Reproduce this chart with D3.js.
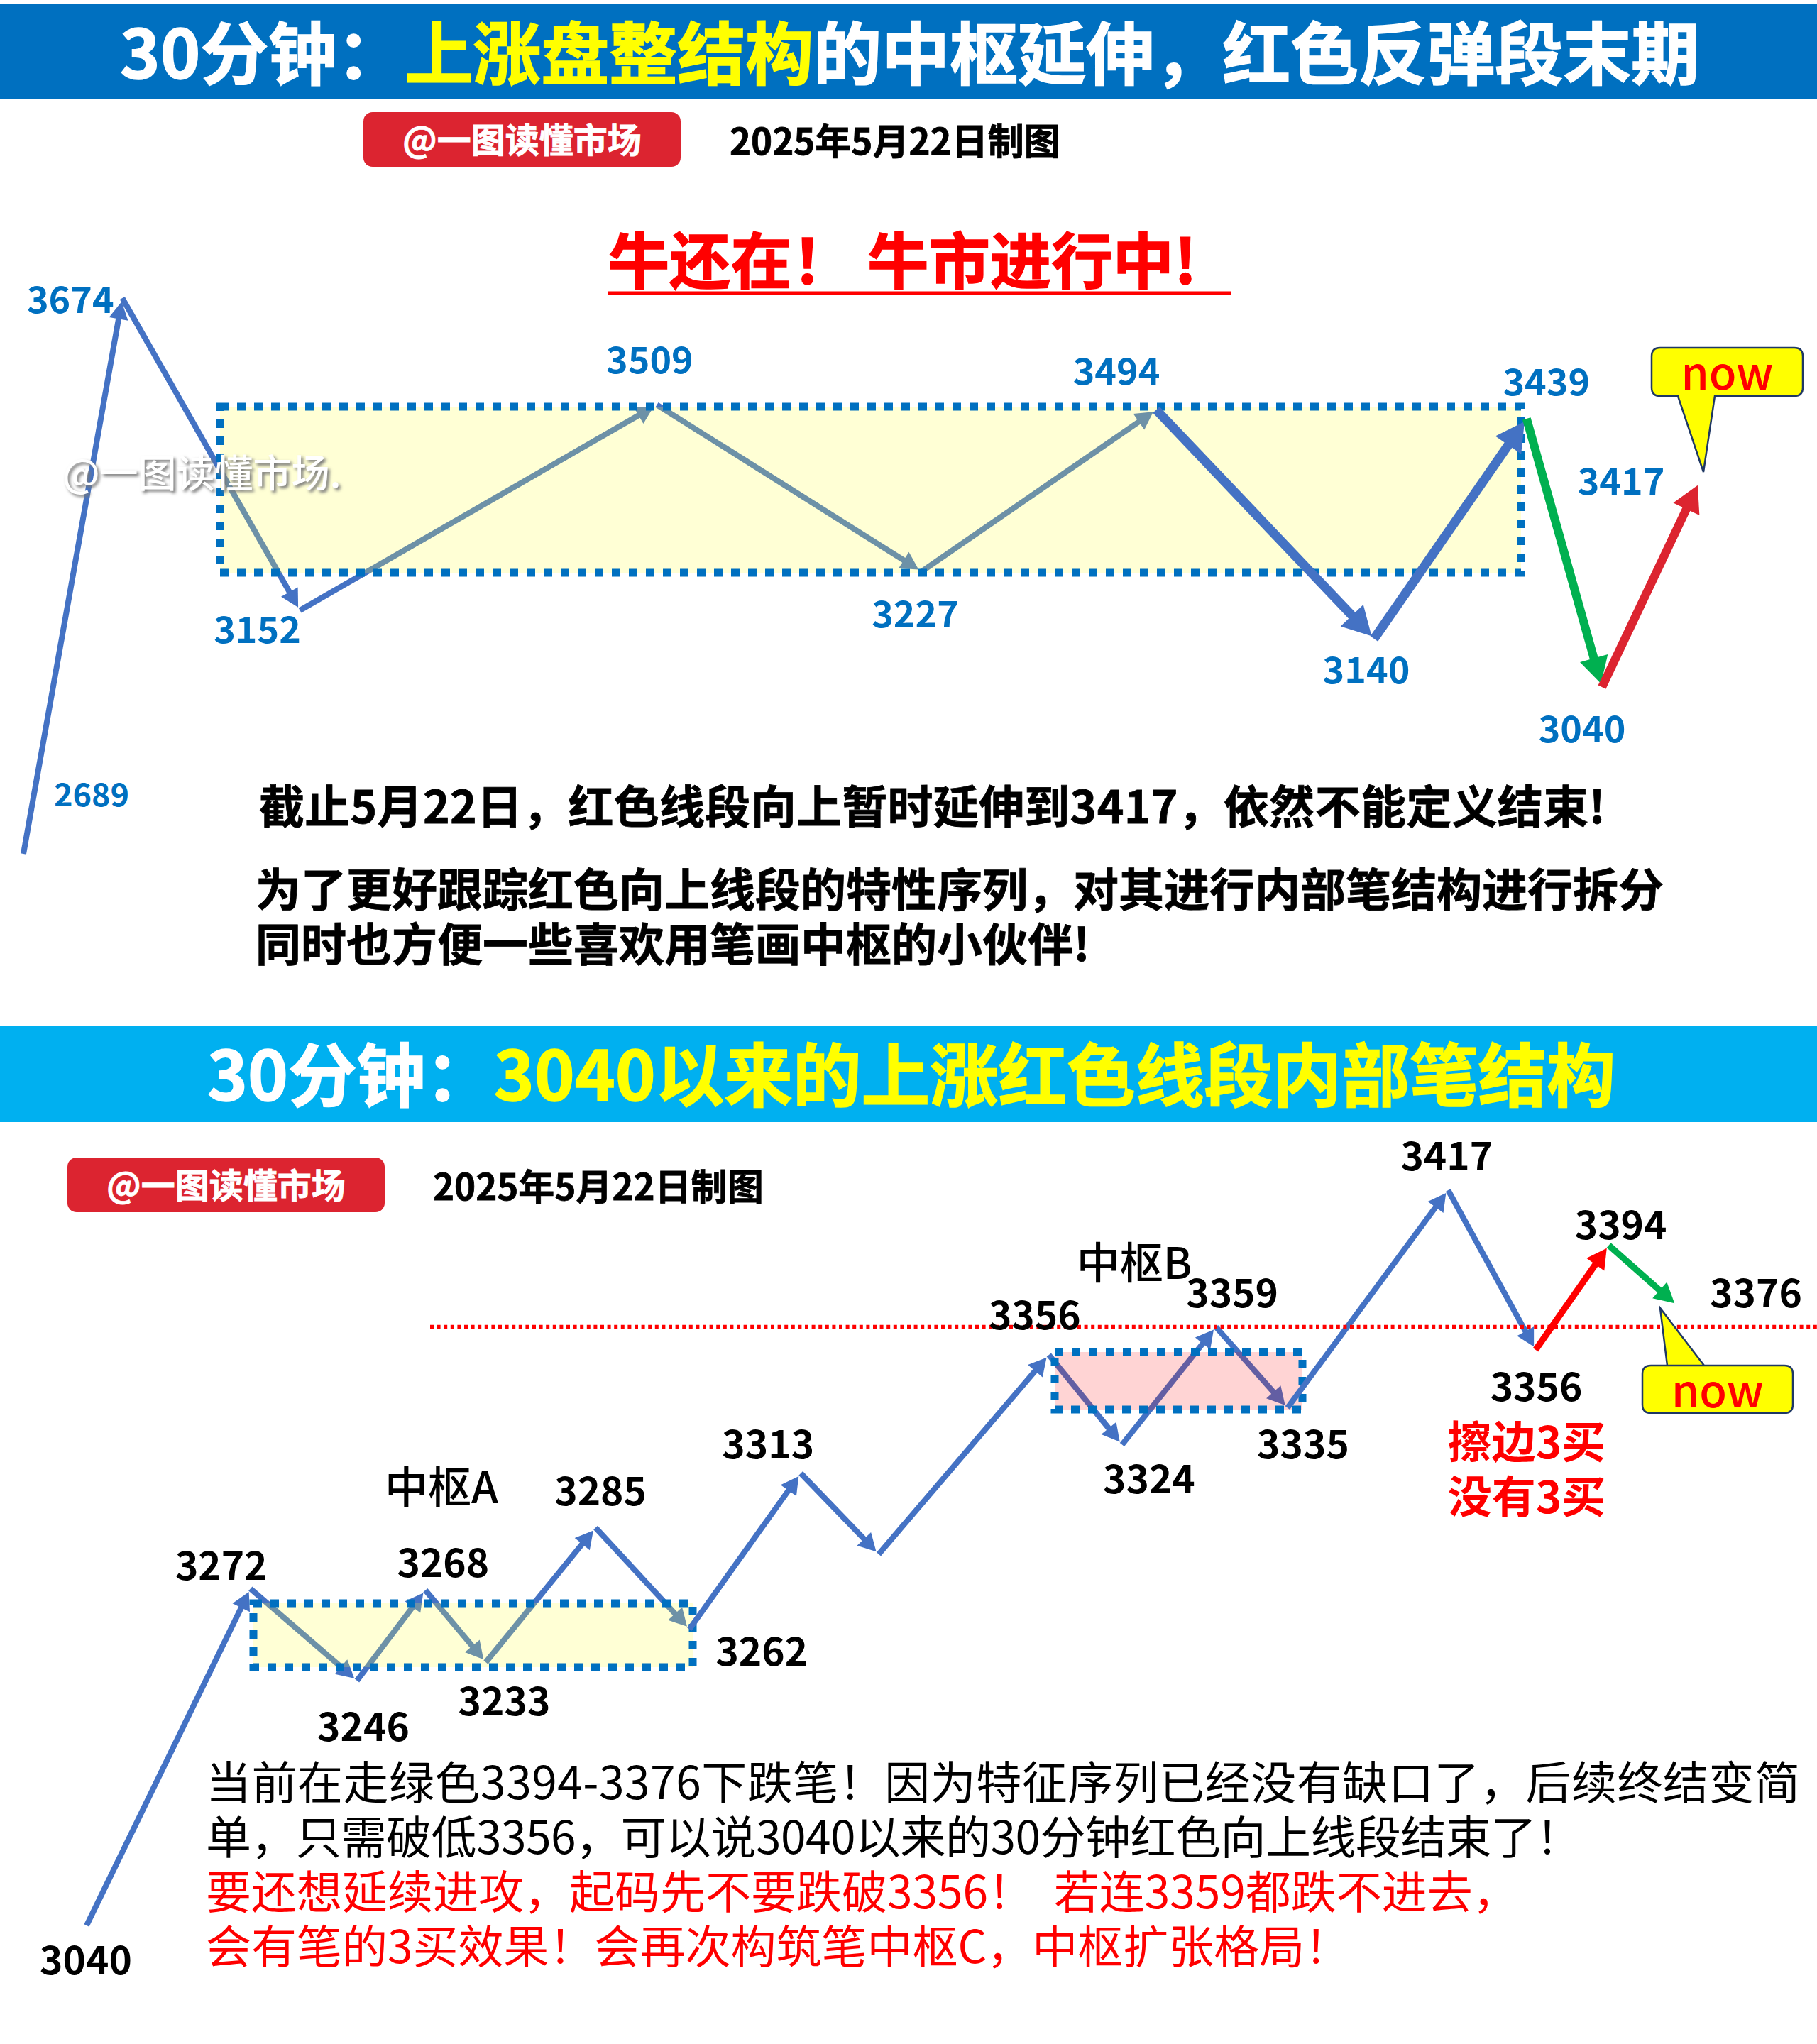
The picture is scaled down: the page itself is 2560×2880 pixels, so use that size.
<!DOCTYPE html>
<html>
<head>
<meta charset="utf-8">
<script src="https://cdn.jsdelivr.net/npm/d3@7"></script>
<style>
html, body { margin: 0; background: #fff; }
svg { display: block; }
text { font-family: "Noto Sans CJK SC", "Noto Sans", sans-serif; }
</style>
</head>
<body>
<script>
// the sketch is not to price scale, so each pivot has a step and a height read off the picture (0-100)
const topPrice = [2689, 3674, 3152, 3509, 3227, 3494, 3140, 3439, 3040, 3417]
const topStep = [0, 5.9, 16.5, 37.8, 53.6, 67.6, 80.6, 89.7, 94.2, 100]
const topLevel = [0, 100, 43.8, 80.8, 50.8, 79.9, 38.7, 78.3, 30, 66.9]

const lowPrice = [3040, 3272, 3246, 3268, 3233, 3285, 3262, 3313, null, 3356, 3324, 3359, 3335, 3417, 3356, 3394, 3376]
const lowStep = [0, 10.3, 17, 21.3, 25.1, 32, 37.9, 44.9, 49.8, 60.5, 65.1, 71, 75.5, 85.6, 91.1, 95.7, 100]
const lowLevel = [0, 45.8, 33.3, 45.6, 35.8, 54.1, 40.3, 61.5, 50.5, 77.6, 65.4, 81.4, 70.4, 100, 78.3, 92.5, 84.3]

const BLUE = "#4472C4", GREEN = "#00B050", RED = "#DC2430", PURE_RED = "#FF0000", BOX_BLUE = "#0070C0"

const svg = d3.select("body").append("svg").attr("width", 2560).attr("height", 2880)

const topX = d3.scaleLinear().domain([0, 100]).range([33, 2394])
const topY = d3.scaleLinear().domain([0, 100]).range([1203, 420])
const lowX = d3.scaleLinear().domain([0, 100]).range([122, 2363])
const lowY = d3.scaleLinear().domain([0, 100]).range([2713, 1677])

const addText = (str, x, y, size, color, weight, anchor) => {
    return svg.append("text")
        .attr("x", x).attr("y", y)
        .attr("font-size", size)
        .attr("font-weight", weight || 400)
        .attr("fill", color)
        .attr("text-anchor", anchor || "start")
        .text(str)
}

// fatten a bold text, the original font is heavier than Noto
const heavy = (sel, color, w) => sel.attr("stroke", color).attr("stroke-width", w)

// title with white/yellow runs
const addTitle = (runs, x, y, size) => {
    let t = svg.append("text").attr("x", x).attr("y", y).attr("font-size", size).attr("font-weight", 700)
    for (let r of runs) {
        t.append("tspan").attr("fill", r[1]).attr("stroke", r[1]).attr("stroke-width", 1.6).text(r[0])
    }
}

const addBadge = (x, y, w, h, dateX) => {
    svg.append("rect").attr("x", x).attr("y", y).attr("width", w).attr("height", h).attr("rx", 13).attr("fill", RED)
    heavy(addText("@一图读懂市场", x + w / 2, y + h / 2 + 18, 48, "#fff", 700, "middle"), "#fff", 0.8)
    heavy(addText("2025年5月22日制图", dateX, y + h / 2 + 21, 51, "#000", 700), "#000", 0.8)
}

// line stops short of the pivot, then a triangle head closes it
const addLeg = (a, b, width, color) => {
    const GAP = 5
    const len = Math.hypot(b[0] - a[0], b[1] - a[1])
    const ux = (b[0] - a[0]) / len, uy = (b[1] - a[1]) / len
    const tip = [b[0] - ux * GAP, b[1] - uy * GAP]
    const headLen = width * 3.1, headHalf = width * 1.7
    const neck = [tip[0] - ux * headLen, tip[1] - uy * headLen]
    svg.append("line")
        .attr("x1", a[0]).attr("y1", a[1]).attr("x2", neck[0] + ux).attr("y2", neck[1] + uy)
        .attr("stroke", color).attr("stroke-width", width)
    svg.append("path")
        .attr("d", d3.line()([tip, [neck[0] - uy * headHalf, neck[1] + ux * headHalf], [neck[0] + uy * headHalf, neck[1] - ux * headHalf]]) + "Z")
        .attr("fill", color)
}

const addBox = (x0, y0, x1, y1, fill, opacity) => {
    svg.append("rect").attr("x", x0).attr("y", y0).attr("width", x1 - x0).attr("height", y1 - y0)
        .attr("fill", fill).attr("fill-opacity", opacity)
    svg.append("rect").attr("x", x0).attr("y", y0).attr("width", x1 - x0).attr("height", y1 - y0)
        .attr("fill", "none").attr("stroke", BOX_BLUE).attr("stroke-width", 11).attr("stroke-dasharray", "12 12")
}

const addNow = (x, y, w, h, tip, base0, base1) => {
    const r = 12
    const d = `M${x + r},${y} H${x + w - r} Q${x + w},${y} ${x + w},${y + r} V${y + h - r} Q${x + w},${y + h} ${x + w - r},${y + h}`
    const pointsDown = tip[1] > y + h
    const path = pointsDown
        ? d + ` H${base1} L${tip[0]},${tip[1]} L${base0},${y + h} H${x + r} Q${x},${y + h} ${x},${y + h - r} V${y + r} Q${x},${y} ${x + r},${y} Z`
        : d + ` H${x + r} Q${x},${y + h} ${x},${y + h - r} V${y + r} Q${x},${y} ${x + r},${y} H${base0} L${tip[0]},${tip[1]} L${base1},${y} Z`
    svg.append("path").attr("d", path).attr("fill", "#FFFF00").attr("stroke", "#1F3864").attr("stroke-width", 2.5)
    addText("now", x + w / 2, y + h / 2 + 25, 63, PURE_RED, 500, "middle")
}

// ---------- top panel ----------
svg.append("rect").attr("x", 0).attr("y", 6).attr("width", 2560).attr("height", 134).attr("fill", "#0070C0")
addTitle([["30分钟：", "#fff"], ["上涨盘整结构", "#FFFF00"], ["的中枢延伸，红色反弹段末期", "#fff"]], 169, 111, 96)
addBadge(512, 158, 447, 77, 1028)

heavy(addText("牛还在！ 牛市进行中!", 857, 400, 86, PURE_RED, 700).attr("textLength", 829), PURE_RED, 1.6)
svg.append("line").attr("x1", 857).attr("x2", 1735).attr("y1", 413).attr("y2", 413).attr("stroke", PURE_RED).attr("stroke-width", 5)

const topP = topStep.map((s, i) => [topX(s), topY(topLevel[i])])
const topWidth = [8, 8, 8, 8, 8, 13, 13, 12, 12]
const topColor = [BLUE, BLUE, BLUE, BLUE, BLUE, BLUE, BLUE, GREEN, RED]
for (let i = 0; i < 5; i++) addLeg(topP[i], topP[i + 1], topWidth[i], topColor[i])
addBox(310, 573, 2143, 807, "#FFFF40", 0.22)
for (let i = 5; i < topColor.length; i++) addLeg(topP[i], topP[i + 1], topWidth[i], topColor[i])

const topLabelOffset = [[96, -86], [-73, 2], [-60, 27], [-10, -63], [-9, 60], [-56, -54], [-11, 44], [28, -52], [-28, 59], [-110, -1]]
topPrice.forEach((p, i) => {
    addText(p, topP[i][0] + topLabelOffset[i][0], topP[i][1] + topLabelOffset[i][1] + 19, i == 0 ? 45 : 52, BOX_BLUE, 700, "middle")
})

addText("@一图读懂市场.", 88, 687, 54, "#fff", 500).style("filter", "drop-shadow(3px 3px 2px #777)")

addNow(2327, 490, 213, 68, [2400, 665], 2364, 2416)

heavy(addText("截止5月22日，红色线段向上暂时延伸到3417，依然不能定义结束!", 365, 1160, 64, "#000", 700).attr("textLength", 1897), "#000", 0.8)
heavy(addText("为了更好跟踪红色向上线段的特性序列，对其进行内部笔结构进行拆分", 360, 1277, 64, "#000", 700), "#000", 0.8)
heavy(addText("同时也方便一些喜欢用笔画中枢的小伙伴!", 360, 1354, 64, "#000", 700), "#000", 0.8)

// ---------- bottom panel ----------
svg.append("rect").attr("x", 0).attr("y", 1445).attr("width", 2560).attr("height", 136).attr("fill", "#00B0F0")
addTitle([["30分钟：", "#fff"], ["3040以来的上涨红色线段内部笔结构", "#FFFF00"]], 292, 1551, 96.6)
addBadge(95, 1631, 447, 77, 610)

const lowP = lowStep.map((s, i) => [lowX(s), lowY(lowLevel[i])])
const lowColor = lowP.slice(1).map(() => BLUE)
lowColor[14] = PURE_RED
lowColor[15] = GREEN
const lowWidth = lowColor.map((c) => c == BLUE ? 8 : 9)
const overBox = [6, 12]
lowColor.forEach((c, i) => { if (!overBox.includes(i)) addLeg(lowP[i], lowP[i + 1], lowWidth[i], c) })
addBox(357, 2259, 976, 2349, "#FFFF40", 0.22)
addBox(1486, 1905, 1835, 1986, "#FF0000", 0.17)
overBox.forEach((i) => addLeg(lowP[i], lowP[i + 1], lowWidth[i], lowColor[i]))

// red reference line sits at the 3359 pivot
svg.append("line").attr("x1", 606).attr("x2", 2560).attr("y1", lowP[11][1]).attr("y2", lowP[11][1])
    .attr("stroke", PURE_RED).attr("stroke-width", 6).attr("stroke-dasharray", "5 4.6")

const lowLabelOffset = [[-1, 49], [-41, -33], [9, 65], [25, -39], [26, 55], [7, -52], [102, 32], [-46, -41], null, [-20, -56], [38, 49], [23, -48], [22, 51], [-2, -48], [1, 52], [17, -29], [111, -18]]
lowPrice.forEach((p, i) => {
    if (p === null) return
    addText(p, lowP[i][0] + lowLabelOffset[i][0], lowP[i][1] + lowLabelOffset[i][1] + 20, 55, "#000", 700, "middle")
})

addText("中枢A", 622, 2118, 61, "#000", 500, "middle")
addText("中枢B", 1598, 1802, 61, "#000", 500, "middle")
addText("擦边3买", 2151, 2055, 62, PURE_RED, 700, "middle")
addText("没有3买", 2151, 2132, 62, PURE_RED, 700, "middle")

addNow(2314, 1924, 212, 67, [2339, 1843], 2349, 2401)

addText("当前在走绿色3394-3376下跌笔！因为特征序列已经没有缺口了，后续终结变简", 290, 2535, 64, "#000").attr("textLength", 2246)
addText("单，只需破低3356，可以说3040以来的30分钟红色向上线段结束了！", 290, 2612, 64, "#000").attr("textLength", 1938)
addText("要还想延续进攻，起码先不要跌破3356！  若连3359都跌不进去，", 290, 2689, 64, PURE_RED).attr("xml:space", "preserve")
addText("会有笔的3买效果！会再次构筑笔中枢C，中枢扩张格局！", 290, 2766, 64, PURE_RED)
</script>
</body>
</html>
